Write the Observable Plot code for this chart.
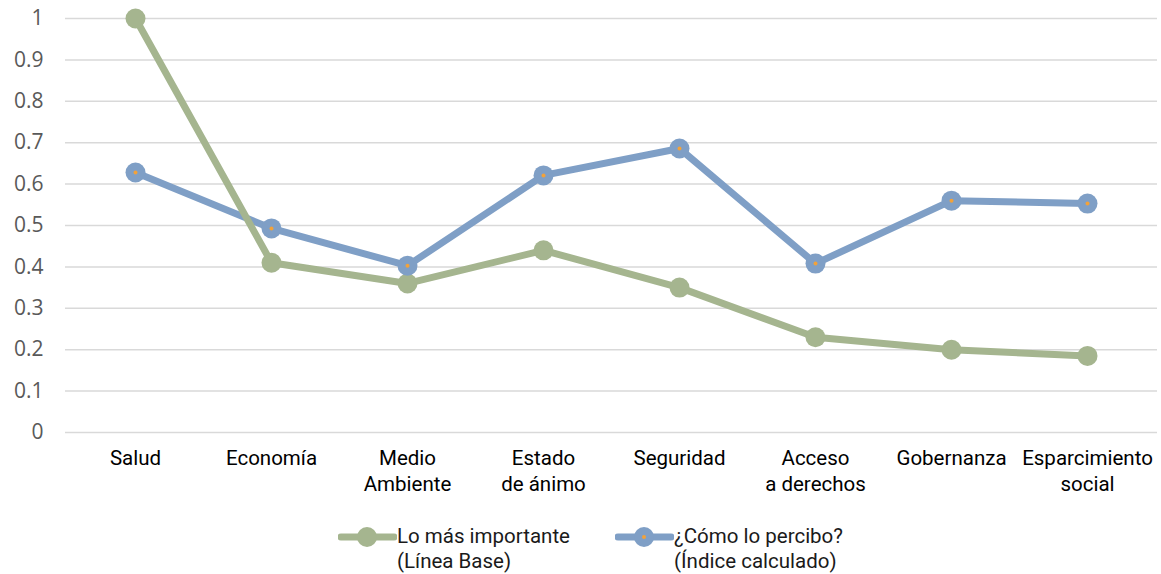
<!DOCTYPE html>
<html><head><meta charset="utf-8">
<script src="https://cdn.jsdelivr.net/npm/d3@7"></script>
<script src="https://cdn.jsdelivr.net/npm/@observablehq/plot@0.6"></script>
<style>
body{margin:0;background:#fff;font-family:Roboto,"Noto Sans",sans-serif;}
#legend{position:relative;height:64px;width:1161px;font-size:20.5px;color:#1a1a1a;}
.item{position:absolute;top:14px;display:flex;align-items:flex-start;line-height:25px;}
.item svg{margin-top:2px}
</style></head><body>
<div id="chart"></div>
<div id="legend"></div>
<script>
const categories = ["Salud","Economía","Medio\nAmbiente","Estado\nde ánimo","Seguridad","Acceso\na derechos","Gobernanza","Esparcimiento\nsocial"];
const importante = [1.0,0.41,0.36,0.44,0.35,0.23,0.2,0.185];
const percibo = [0.628,0.493,0.403,0.621,0.686,0.408,0.56,0.553];
const seriesNames = ["Lo más importante\n(Línea Base)","¿Cómo lo percibo?\n(Índice calculado)"];
const yTicks = [0,0.1,0.2,0.3,0.4,0.5,0.6,0.7,0.8,0.9,1];
const colors = ["#A5B58F","#7F9FC6"];
const dotColor = "#F2A23A";

const data = [];
categories.forEach((c,i)=>{
  data.push({cat:c, v:importante[i], s:seriesNames[0]});
  data.push({cat:c, v:percibo[i], s:seriesNames[1]});
});
const blue = data.filter(d=>d.s===seriesNames[1]);
const green = data.filter(d=>d.s===seriesNames[0]);

const chart = Plot.plot({
  width:1161, height:510,
  marginLeft:65, marginRight:4, marginTop:18, marginBottom:78,
  style:{fontFamily:"Roboto, sans-serif", fontSize:"17px", background:"#fff"},
  x:{type:"point", domain:categories, padding:0.5, label:null},
  y:{domain:[0,1], label:null},
  marks:[
    Plot.gridY(yTicks,{stroke:"#d9d9d9", strokeOpacity:1, strokeWidth:1.5}),
    Plot.axisY({ticks:yTicks, tickSize:0, tickPadding:22, tickFormat:d=>String(+d.toFixed(1)), fill:"#595959", fontSize:21, fontFamily:"Open Sans"}),
    Plot.axisX({tickSize:0, tickPadding:14, fill:"#000", fontSize:20.5, lineHeight:1.27}),
    Plot.line(blue,{x:"cat", y:"v", stroke:colors[1], strokeWidth:7}),
    Plot.line(green,{x:"cat", y:"v", stroke:colors[0], strokeWidth:7}),
    Plot.dot(green,{x:"cat", y:"v", fill:colors[0], r:10}),
    Plot.dot(blue,{x:"cat", y:"v", fill:colors[1], r:10}),
    Plot.dot(blue,{x:"cat", y:"v", fill:dotColor, r:2}),
  ]
});
document.getElementById("chart").appendChild(chart);

const legend = document.getElementById("legend");
const lx = [338, 615];
seriesNames.forEach((name,i)=>{
  const div = document.createElement("div");
  div.className="item";
  div.style.left = lx[i]+"px";
  const dot = i===1 ? `<circle cx="29" cy="11" r="2" fill="${dotColor}"/>` : "";
  div.innerHTML = `<svg width="59" height="24"><line x1="3" x2="56" y1="11" y2="11" stroke="${colors[i]}" stroke-width="7" stroke-linecap="round"/><circle cx="29" cy="11" r="10" fill="${colors[i]}"/>${dot}</svg><div>${name.replace("\n","<br>")}</div>`;
  legend.appendChild(div);
});
</script>
</body></html>
